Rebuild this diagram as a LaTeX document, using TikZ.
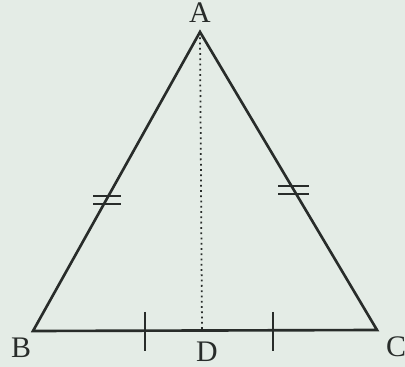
\documentclass[tikz,border=0pt]{standalone}
\usepackage{fontspec}
\setmainfont{Liberation Serif}
\definecolor{paper}{RGB}{228,236,230}
\definecolor{ink}{RGB}{40,44,42}
\begin{document}
\begin{tikzpicture}[
  x=0.02cm, y=-0.02cm,
  side/.style={draw=ink, line width=1.5pt, line join=miter},
  tick/.style={draw=ink, line width=1.4pt},
  every node/.style={text=ink, font=\fontsize{17}{19}\selectfont, inner sep=0pt}
]

  % Fondo
  \fill[paper] (0,0) rectangle (405,367);
  \useasboundingbox (0,0) rectangle (405,367);

  % Vértices
  \coordinate (A) at (200,32);
  \coordinate (B) at (33,331);
  \coordinate (C) at (377,330);
  \coordinate (D) at (202,331);

  % Etiquetas
  \node (lA) at (200,13) {A};
  \node (lB) at (21,348) {B};
  \node (lC) at (396,347) {C};
  \node (lD) at (207,352) {D};

  % Lados del triángulo
  \draw[side] (B) -- (A) -- (C) -- cycle;

  % Altura punteada
  \draw[draw=ink, line width=1pt, dotted] (A) -- (D);

  % Marcas en BC
  \draw[tick] (145,312) -- (145,351);
  \draw[tick] (273,312) -- (273,351);

  % Marcas dobles en AB y AC
  \draw[tick] (93,196) -- (121,196);
  \draw[tick] (93,204) -- (121,204);
  \draw[tick] (278,186) -- (309,186);
  \draw[tick] (278,194) -- (309,194);

\end{tikzpicture}
\end{document}
